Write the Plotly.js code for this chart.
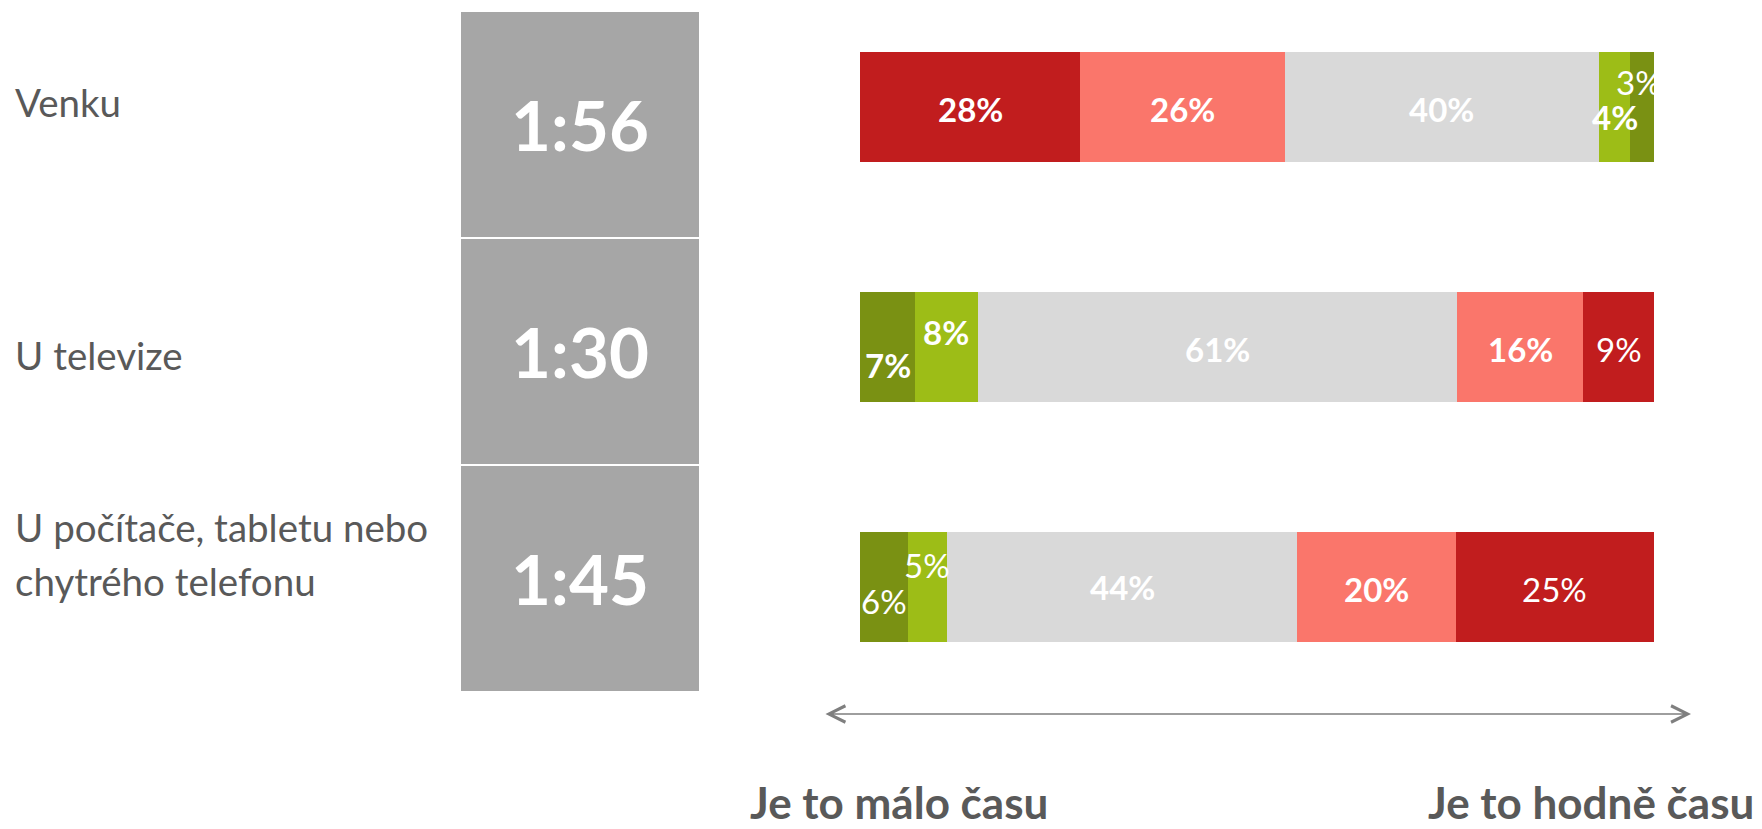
<!DOCTYPE html>
<html>
<head>
<meta charset="utf-8">
<script src="https://cdn.plot.ly/plotly-3.0.1.min.js"></script>
<style>
html, body { margin: 0; padding: 0; background: #ffffff; }
#chart { width: 1762px; height: 829px; }
</style>
</head>
<body>
<div id="chart"></div>
<script>
// ---- data ----
const categories = ['Venku', 'U televize', 'U počítače, tabletu nebo<br>chytrého telefonu'];
const times = ['1:56', '1:30', '1:45'];
// segments from left ("málo času") to right ("hodně času")
const seg1 = [28, 7, 6];
const seg2 = [26, 8, 5];
const seg3 = [40, 61, 44];
const seg4 = [4, 16, 20];
const seg5 = [3, 9, 25];
const scaleLabels = ['Je to málo času', 'Je to hodně času'];

// ---- styles ----
const RED = '#C11D1E', SALMON = '#FA766B', GRAY = '#D9D9D9', LIME = '#9DBD17', OLIVE = '#7A9113';
const rowColors = [
  [RED, SALMON, GRAY, LIME, OLIVE],
  [OLIVE, LIME, GRAY, SALMON, RED],
  [OLIVE, LIME, GRAY, SALMON, RED]
];
const labelBold = [[1,1,1,1,0],[1,1,1,1,0],[0,0,1,1,0]];
const labelYShift = [[-2,-2,-2,-10,25],[-18,15,-2,-2,-2],[-14,22,0,-2,-2]];
const labelXShift = [[0,0,0,0,-3],[0,0,0,0,0],[0,0,0,0,0]];
const FONT = 'Lato, "Open Sans", sans-serif';
const TXT = '#595959';
const W = 1762, H = 829;

const series = [seg1, seg2, seg3, seg4, seg5];

const traces = series.map((vals, j) => ({
  type: 'bar', orientation: 'h',
  x: vals, y: categories,
  xaxis: 'x', yaxis: 'y',
  width: 0.458,
  marker: { color: categories.map((c, i) => rowColors[i][j]), line: { width: 0 } },
  hoverinfo: 'skip', showlegend: false
}));

traces.push({
  type: 'bar', orientation: 'h',
  x: times.map(() => 1), y: categories,
  xaxis: 'x2', yaxis: 'y2',
  width: 0.991,
  marker: { color: '#A6A6A6', line: { width: 0 } },
  text: times, textposition: 'inside', insidetextanchor: 'middle', textangle: 0,
  textfont: { family: FONT, size: 69, color: '#ffffff', weight: 700 },
  hoverinfo: 'skip', showlegend: false
});

const annotations = [];
categories.forEach((c, i) => {
  const total = series.reduce((s, a) => s + a[i], 0);
  let cum = 0;
  series.forEach((vals, j) => {
    const mid = (cum + vals[i] / 2) / total * 100;
    cum += vals[i];
    annotations.push({
      x: mid, y: c, xref: 'x', yref: 'y',
      text: vals[i] + '%', showarrow: false,
      xanchor: 'center', yanchor: 'middle',
      yshift: labelYShift[i][j], xshift: labelXShift[i][j],
      font: { family: FONT, size: 33, color: '#ffffff', weight: labelBold[i][j] ? 700 : 400 }
    });
  });
});

// category labels on the left
const labelCenters = [[101.7], [355.1], [527, 581.4]];
categories.forEach((c, i) => {
  c.split('<br>').forEach((line, k) => {
    annotations.push({
      x: 13 / W, y: 1 - labelCenters[i][k] / H, xref: 'paper', yref: 'paper',
      xanchor: 'left', yanchor: 'middle', showarrow: false,
      text: line, font: { family: FONT, size: 38.5, color: TXT }
    });
  });
});

// arrow
annotations.push({
  x: 1691 / W, y: 1 - 714 / H, xref: 'paper', yref: 'paper',
  ax: -(1691 - 824), ay: 0, axref: 'pixel', ayref: 'pixel',
  text: '', showarrow: true, arrowside: 'end+start',
  arrowhead: 5, arrowsize: 2.3, arrowwidth: 1.4, arrowcolor: '#7F7F7F', standoff: 0, startstandoff: 0
});

// scale labels
const scaleCenters = [899, 1591];
scaleLabels.forEach((t, k) => {
  annotations.push({
    x: scaleCenters[k] / W, y: 0, xref: 'paper', yref: 'paper',
    xanchor: 'center', yanchor: 'bottom', showarrow: false, borderpad: 0,
    text: t, font: { family: FONT, size: 44, color: TXT, weight: 700 }
  });
});

// axis ranges in pixel geometry
const pxPerUnitX = (1654 - 860) / 100;
const xr0 = -860 / pxPerUnitX;
const pxPerRow = 240.2;
const yTop = -106.7 / pxPerRow;
const pxPerBox = 226.7;
const y2Top = -124.8 / pxPerBox;

const layout = {
  width: W, height: H,
  margin: { l: 0, r: 0, t: 0, b: 0, pad: 0 },
  paper_bgcolor: '#ffffff', plot_bgcolor: 'rgba(0,0,0,0)',
  barmode: 'stack', barnorm: 'percent',
  showlegend: false,
  xaxis: { domain: [0, 1], range: [xr0, xr0 + W / pxPerUnitX], visible: false, fixedrange: true, anchor: 'y' },
  yaxis: { domain: [0, 1], type: 'category', range: [yTop + H / pxPerRow, yTop], visible: false, fixedrange: true, anchor: 'x' },
  xaxis2: { domain: [461 / W, 699 / W], range: [0, 100], visible: false, fixedrange: true, anchor: 'y2' },
  yaxis2: { domain: [0, 1], type: 'category', range: [y2Top + H / pxPerBox, y2Top], visible: false, fixedrange: true, anchor: 'x2' },
  annotations: annotations,
  font: { family: FONT }
};

Plotly.newPlot('chart', traces, layout, { displayModeBar: false, staticPlot: true });
</script>
</body>
</html>
